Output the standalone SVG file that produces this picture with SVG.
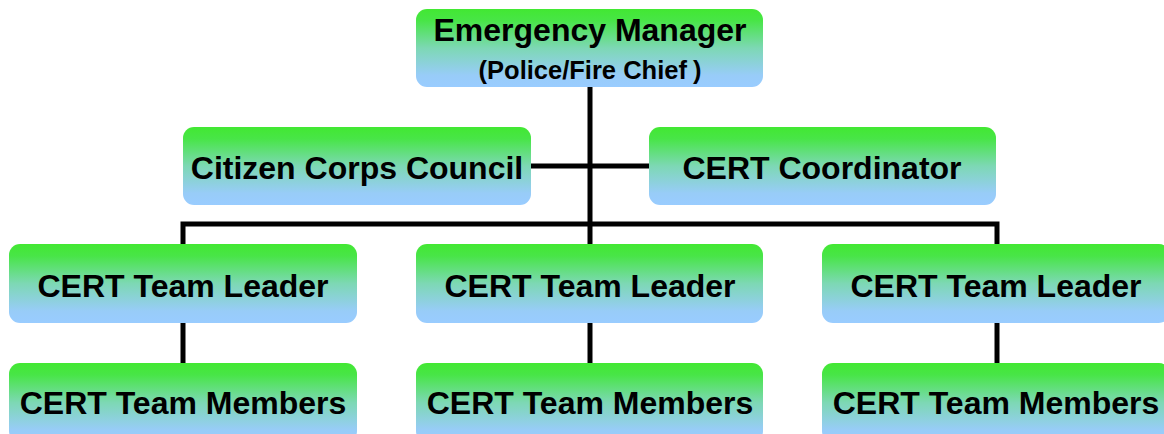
<svg xmlns="http://www.w3.org/2000/svg" width="1164" height="434" viewBox="0 0 1164 434">
<defs>
<linearGradient id="g" x1="0" y1="0" x2="0" y2="1">
<stop offset="0" stop-color="#42E832"/>
<stop offset="0.15" stop-color="#48E547"/>
<stop offset="0.5" stop-color="#7DD8B4"/>
<stop offset="0.85" stop-color="#98CCF8"/>
<stop offset="1" stop-color="#99CCFF"/>
</linearGradient>
</defs>
<style>
.box{fill:url(#g);}
.t{font-family:"Liberation Sans",Arial,sans-serif;font-weight:bold;font-size:32px;fill:#000;text-anchor:middle;}
.s{font-size:25.5px;}
.c{stroke:#000;stroke-width:5;fill:none;}
</style>
<g id="connectors">
<path class="c" d="M590 87V244"/>
<path class="c" d="M531 166H649"/>
<path class="c" d="M183 244V224H997V244"/>
<path class="c" d="M183 323V363"/>
<path class="c" d="M590 323V363"/>
<path class="c" d="M997 323V363"/>
</g>
<g id="emergency-manager">
<rect class="box" x="416" y="9" width="347" height="78" rx="11"/>
<text class="t" x="590" y="41">Emergency Manager</text>
<text class="t s" x="590" y="79">(Police/Fire Chief<tspan dx="6">)</tspan></text>
</g>
<g id="citizen-corps-council">
<rect class="box" x="183" y="127" width="348" height="78" rx="11"/>
<text class="t" x="357" y="179">Citizen Corps Council</text>
</g>
<g id="cert-coordinator">
<rect class="box" x="649" y="127" width="347" height="78" rx="11"/>
<text class="t" x="822" y="179">CERT Coordinator</text>
</g>
<g id="leader-1">
<rect class="box" x="9" y="244" width="348" height="79" rx="11"/>
<text class="t" x="183" y="297">CERT Team Leader</text>
</g>
<g id="leader-2">
<rect class="box" x="416" y="244" width="347" height="79" rx="11"/>
<text class="t" x="590" y="297">CERT Team Leader</text>
</g>
<g id="leader-3">
<rect class="box" x="822" y="244" width="348" height="79" rx="11"/>
<text class="t" x="996" y="297">CERT Team Leader</text>
</g>
<g id="members-1">
<rect class="box" x="9" y="363" width="348" height="79" rx="11"/>
<text class="t" x="183" y="414">CERT Team Members</text>
</g>
<g id="members-2">
<rect class="box" x="416" y="363" width="347" height="79" rx="11"/>
<text class="t" x="590" y="414">CERT Team Members</text>
</g>
<g id="members-3">
<rect class="box" x="822" y="363" width="348" height="79" rx="11"/>
<text class="t" x="996" y="414">CERT Team Members</text>
</g>
</svg>
